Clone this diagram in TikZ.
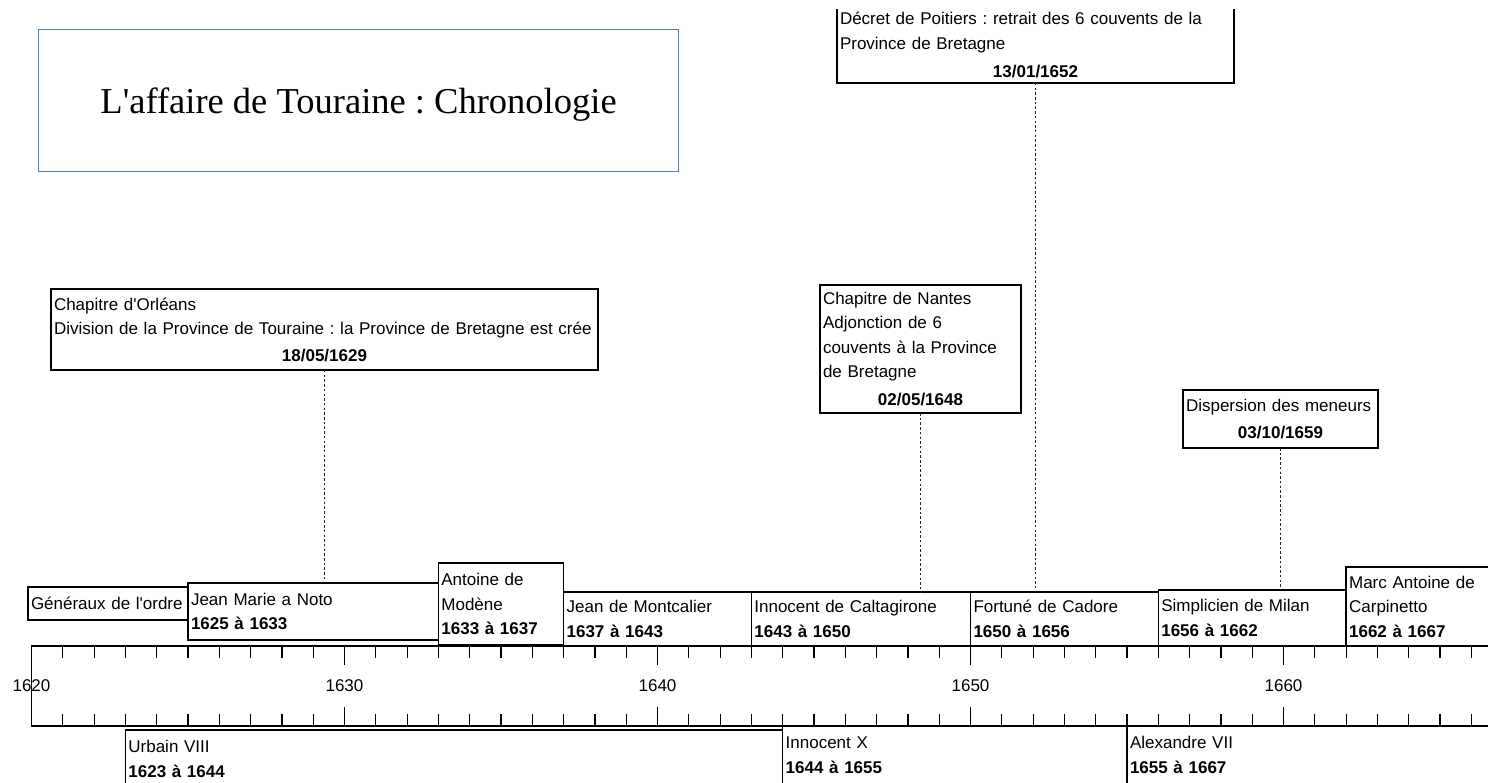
\documentclass[tikz,border=0pt]{standalone}
\usepackage{fontspec}
\setmainfont{Liberation Serif}[Ligatures=TeXOff]
\newfontfamily\lsans{Liberation Sans}[Ligatures=TeXOff]
\definecolor{titleblue}{RGB}{82,122,190}
\frenchspacing
\begin{document}
\begin{tikzpicture}[x=1pt,y=-1pt,
  box/.style={draw=black, line width=1.3pt, fill=white, anchor=north west, align=left,
    inner xsep=3pt, inner ysep=0pt, outer sep=0pt,
    font=\lsans\fontsize{17pt}{24.5pt}\selectfont},
  titlebox/.style={draw=titleblue, line width=1.1pt, anchor=north west, inner sep=0pt,
    font=\fontsize{36.5pt}{40pt}\selectfont},
  conn/.style={line width=1pt, draw=black!85, dash pattern=on 2.5pt off 2.2pt},
  axisline/.style={line width=1.5pt},
  tickline/.style={line width=1.2pt},
  yearlbl/.style={inner sep=0pt, font=\lsans\fontsize{17pt}{20pt}\selectfont}
]
\useasboundingbox (0,0) rectangle (1488,783);
\begin{scope}
\clip (0,10) rectangle (1488,783);

% title
\node[titlebox, minimum width=640pt, minimum height=142pt, text height=26.5pt, text depth=0pt]
  (title) at (38,29) {L'affaire de Touraine : Chronologie};

% axis
\draw[axisline] (1488,646) -- (31.5,646) -- (31.5,726) -- (1488,726);
\foreach \i in {1,...,47}{
  \pgfmathtruncatemacro\m{mod(\i,10)}
  \ifnum\m=0 \def\tl{19}\else\def\tl{12}\fi
  \draw[tickline] ({31.5+\i*31.3},646) -- ++(0,\tl);
  \draw[tickline] ({31.5+\i*31.3},726) -- ++(0,-\tl);
}
\foreach \yv in {1620,1630,1640,1650,1660}{
  \node[yearlbl] (y\yv) at ({31.5+(\yv-1620)*31.3},686) {\yv};
}

% generals (top row)
\node[box, text width=155pt, minimum height=33pt] (gen) at (28,587) {Généraux de l'ordre};
\node[box, text width=244.4pt, minimum height=57pt] (jm) at (188,583) {Jean Marie a Noto\\\textbf{1625 à 1633}};
\node[box, text width=119.2pt, minimum height=82pt] (ant) at (438.4,563) {Antoine de\\Modène\\\textbf{1633 à 1637}};
\node[box, text width=181.8pt, minimum height=54pt] (mont) at (563.6,592) {Jean de Montcalier\\\textbf{1637 à 1643}};
\node[box, text width=213.1pt, minimum height=54pt] (inc) at (751.4,592) {Innocent de Caltagirone\\\textbf{1643 à 1650}};
\node[box, text width=181.8pt, minimum height=54pt] (fort) at (970.5,592) {Fortuné de Cadore\\\textbf{1650 à 1656}};
\node[box, text width=181.8pt, minimum height=56pt] (simp) at (1158.3,590) {Simplicien de Milan\\\textbf{1656 à 1662}};
\node[box, text width=150.5pt, minimum height=79pt] (marc) at (1346.1,567) {Marc Antoine de\\Carpinetto\\\textbf{1662 à 1667}};

% popes (bottom row)
\node[box, text width=651.3pt, minimum height=58pt] (urb) at (125.4,730) {Urbain VIII\\\textbf{1623 à 1644}};
\node[box, text width=338.3pt, minimum height=58pt] (innx) at (782.7,726) {Innocent X\\\textbf{1644 à 1655}};
\node[box, text width=369.6pt, minimum height=58pt] (alex) at (1127,726) {Alexandre VII\\\textbf{1655 à 1667}};

% events
\node[box, text width=541pt, minimum height=81pt] (orl) at (51,289)
  {Chapitre d'Orléans\\Division de la Province de Touraine : la Province de Bretagne est crée\\[2pt]\makebox[\linewidth]{\bfseries 18/05/1629}};
\node[box, text width=195pt, minimum height=128pt] (nan) at (820,285)
  {Chapitre de Nantes\\Adjonction de 6\\couvents à la Province\\de Bretagne\\[3pt]\makebox[\linewidth]{\bfseries 02/05/1648}};
\node[box, anchor=south west, text width=391pt, minimum height=76pt] (dec) at (837,83)
  {Décret de Poitiers : retrait des 6 couvents de la\\Province de Bretagne\\[4pt]\makebox[\linewidth]{\bfseries 13/01/1652}};
\node[box, text width=189pt, minimum height=58pt] (disp) at (1183,390)
  {Dispersion des meneurs\\[2pt]\makebox[\linewidth]{\bfseries 03/10/1659}};

% connectors
\draw[conn] (orl.south) -- (orl.south |- jm.north);
\draw[conn] (nan.south) -- (nan.south |- inc.north);
\draw[conn] (dec.south) -- (dec.south |- fort.north);
\draw[conn] (disp.south) -- (disp.south |- simp.north);
\end{scope}
\end{tikzpicture}
\end{document}
